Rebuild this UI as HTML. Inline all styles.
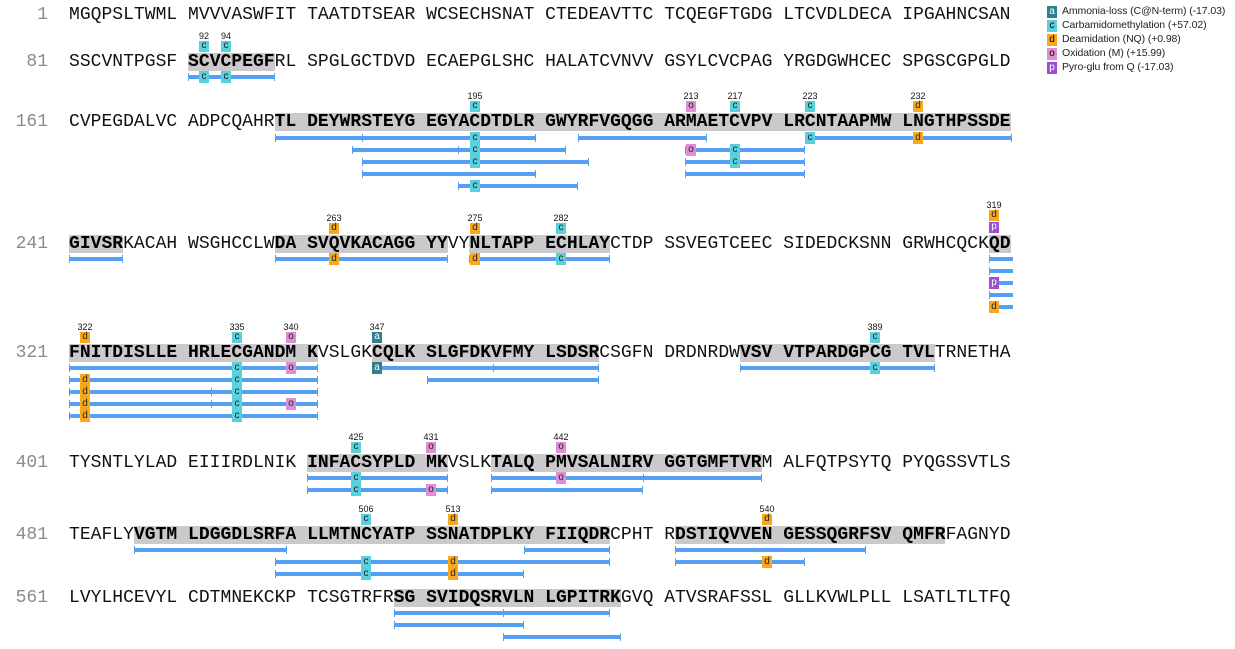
<!DOCTYPE html>
<html><head><meta charset="utf-8"><style>
body{margin:0;width:1235px;height:649px;background:#fff;position:relative;overflow:hidden;font-family:"Liberation Sans",sans-serif}
.r{position:absolute;left:69px;font:18px/20px "Liberation Mono",monospace;white-space:pre;color:#111;letter-spacing:0.02px}
.r b{font-weight:bold;color:#000}
.ln{position:absolute;left:0;width:48px;text-align:right;font:18px/20px "Liberation Mono",monospace;color:#8a8a8a}
.h{position:absolute;height:18px;background:#cbc9cb}
.b{position:absolute;height:8px;border-left:1px solid #55a0f2;border-right:1px solid #55a0f2;box-sizing:border-box}
.b::before{content:"";position:absolute;left:0;right:0;top:2px;height:4px;background:#55a0f2}
.t{position:absolute;width:1px;height:8px;background:#55a0f2}
.m{position:absolute;width:10px;height:12px;font:10px/12px "Liberation Sans",sans-serif;text-align:center;color:#222}
.u{height:11px;line-height:10px}
.c{background:#5ad0dc}.d{background:#f7a81b}.o{background:#e08ed6}.p{background:#9b4fd4;color:#fff}.a{background:#2f7f90;color:#fff}
.n{position:absolute;width:30px;margin-left:-15px;text-align:center;font:9px/10px "Liberation Sans",sans-serif;color:#111}
.lg{position:absolute;left:1062px;font:10.5px/13px "Liberation Sans",sans-serif;color:#222;white-space:nowrap;letter-spacing:-0.1px}
.lb{position:absolute;left:1047px;width:10px;height:12px;font:10px/12px "Liberation Sans",sans-serif;text-align:center}
</style></head><body>

<div class="h" style="left:188px;width:87px;top:53px"></div>
<div class="h" style="left:275px;width:736px;top:113px"></div>
<div class="h" style="left:69px;width:54px;top:235px"></div>
<div class="h" style="left:275px;width:173px;top:235px"></div>
<div class="h" style="left:469px;width:141px;top:235px"></div>
<div class="h" style="left:989px;width:22px;top:235px"></div>
<div class="h" style="left:69px;width:249px;top:344px"></div>
<div class="h" style="left:372px;width:227px;top:344px"></div>
<div class="h" style="left:740px;width:195px;top:344px"></div>
<div class="h" style="left:307px;width:141px;top:454px"></div>
<div class="h" style="left:491px;width:271px;top:454px"></div>
<div class="h" style="left:134px;width:476px;top:526px"></div>
<div class="h" style="left:675px;width:270px;top:526px"></div>
<div class="h" style="left:394px;width:227px;top:589px"></div>

<div class="ln" style="top:5px">1</div><div class="r" style="top:5px">MGQPSLTWML MVVVASWFIT TAATDTSEAR WCSECHSNAT CTEDEAVTTC TCQEGFTGDG LTCVDLDECA IPGAHNCSAN</div>
<div class="ln" style="top:52px">81</div><div class="r" style="top:52px">SSCVNTPGSF <b>SCVCPEGF</b>RL SPGLGCTDVD ECAEPGLSHC HALATCVNVV GSYLCVCPAG YRGDGWHCEC SPGSCGPGLD</div>
<div class="ln" style="top:112px">161</div><div class="r" style="top:112px">CVPEGDALVC ADPCQAHR<b>TL DEYWRSTEYG EGYACDTDLR GWYRFVGQGG ARMAETCVPV LRCNTAAPMW LNGTHPSSDE</b></div>
<div class="ln" style="top:234px">241</div><div class="r" style="top:234px"><b>GIVSR</b>KACAH WSGHCCLW<b>DA SVQVKACAGG YY</b>VY<b>NLTAPP ECHLAY</b>CTDP SSVEGTCEEC SIDEDCKSNN GRWHCQCK<b>QD</b></div>
<div class="ln" style="top:343px">321</div><div class="r" style="top:343px"><b>FNITDISLLE HRLECGANDM K</b>VSLGK<b>CQLK SLGFDKVFMY LSDSR</b>CSGFN DRDNRDW<b>VSV VTPARDGPCG TVL</b>TRNETHA</div>
<div class="ln" style="top:453px">401</div><div class="r" style="top:453px">TYSNTLYLAD EIIIRDLNIK <b>INFACSYPLD MK</b>VSLK<b>TALQ PMVSALNIRV GGTGMFTVR</b>M ALFQTPSYTQ PYQGSSVTLS</div>
<div class="ln" style="top:525px">481</div><div class="r" style="top:525px">TEAFLY<b>VGTM LDGGDLSRFA LLMTNCYATP SSNATDPLKY FIIQDR</b>CPHT R<b>DSTIQVVEN GESSQGRFSV QMFR</b>FAGNYD</div>
<div class="ln" style="top:588px">561</div><div class="r" style="top:588px">LVYLHCEVYL CDTMNEKCKP TCSGTRFR<b>SG SVIDQSRVLN LGPITRK</b>GVQ ATVSRAFSSL GLLKVWLPLL LSATLTLTFQ</div>

<div class="n" style="left:204px;top:31px">92</div><div class="m u c" style="left:199px;top:41px">c</div>
<div class="n" style="left:226px;top:31px">94</div><div class="m u c" style="left:221px;top:41px">c</div>

<div class="n" style="left:475px;top:91px">195</div><div class="m u c" style="left:470px;top:101px">c</div>
<div class="n" style="left:691px;top:91px">213</div><div class="m u o" style="left:686px;top:101px">o</div>
<div class="n" style="left:735px;top:91px">217</div><div class="m u c" style="left:730px;top:101px">c</div>
<div class="n" style="left:810px;top:91px">223</div><div class="m u c" style="left:805px;top:101px">c</div>
<div class="n" style="left:918px;top:91px">232</div><div class="m u d" style="left:913px;top:101px">d</div>

<div class="n" style="left:334px;top:213px">263</div><div class="m u d" style="left:329px;top:223px">d</div>
<div class="n" style="left:475px;top:213px">275</div><div class="m u d" style="left:470px;top:223px">d</div>
<div class="n" style="left:561px;top:213px">282</div><div class="m u c" style="left:556px;top:223px">c</div>
<div class="n" style="left:994px;top:200px">319</div><div class="m u d" style="left:989px;top:210px">d</div><div class="m u p" style="left:989px;top:222px">p</div>

<div class="n" style="left:85px;top:322px">322</div><div class="m u d" style="left:80px;top:332px">d</div>
<div class="n" style="left:237px;top:322px">335</div><div class="m u c" style="left:232px;top:332px">c</div>
<div class="n" style="left:291px;top:322px">340</div><div class="m u o" style="left:286px;top:332px">o</div>
<div class="n" style="left:377px;top:322px">347</div><div class="m u a" style="left:372px;top:332px">a</div>
<div class="n" style="left:875px;top:322px">389</div><div class="m u c" style="left:870px;top:332px">c</div>

<div class="n" style="left:356px;top:432px">425</div><div class="m u c" style="left:351px;top:442px">c</div>
<div class="n" style="left:431px;top:432px">431</div><div class="m u o" style="left:426px;top:442px">o</div>
<div class="n" style="left:561px;top:432px">442</div><div class="m u o" style="left:556px;top:442px">o</div>

<div class="n" style="left:366px;top:504px">506</div><div class="m u c" style="left:361px;top:514px">c</div>
<div class="n" style="left:453px;top:504px">513</div><div class="m u d" style="left:448px;top:514px">d</div>
<div class="n" style="left:767px;top:504px">540</div><div class="m u d" style="left:762px;top:514px">d</div>

<div class="b" style="left:188px;width:87px;top:73px"></div>
<div class="m c" style="left:199px;top:71px">c</div><div class="m c" style="left:221px;top:71px">c</div>

<div class="b" style="left:275px;width:261px;top:134px"></div><div class="t" style="left:362px;top:134px"></div>
<div class="b" style="left:578px;width:129px;top:134px"></div>
<div class="b" style="left:805px;width:207px;top:134px"></div>
<div class="m c" style="left:470px;top:132px">c</div><div class="m c" style="left:805px;top:132px">c</div><div class="m d" style="left:913px;top:132px">d</div>

<div class="b" style="left:352px;width:214px;top:146px"></div><div class="t" style="left:458px;top:146px"></div>
<div class="b" style="left:685px;width:120px;top:146px"></div>
<div class="m c" style="left:470px;top:144px">c</div><div class="m o" style="left:686px;top:144px">o</div><div class="m c" style="left:730px;top:144px">c</div>

<div class="b" style="left:362px;width:227px;top:158px"></div>
<div class="b" style="left:685px;width:120px;top:158px"></div>
<div class="m c" style="left:470px;top:156px">c</div><div class="m c" style="left:730px;top:156px">c</div>

<div class="b" style="left:362px;width:174px;top:170px"></div>
<div class="b" style="left:685px;width:120px;top:170px"></div>

<div class="b" style="left:458px;width:120px;top:182px"></div>
<div class="m c" style="left:470px;top:180px">c</div>

<div class="b" style="left:69px;width:54px;top:255px"></div>
<div class="b" style="left:275px;width:173px;top:255px"></div><div class="m d" style="left:329px;top:253px">d</div>
<div class="b" style="left:469px;width:141px;top:255px"></div><div class="m d" style="left:470px;top:253px">d</div><div class="m c" style="left:556px;top:253px">c</div>
<div class="b" style="left:989px;width:24px;top:255px;border-right:none"></div>
<div class="b" style="left:989px;width:24px;top:267px;border-right:none"></div>
<div class="b" style="left:989px;width:24px;top:279px;border-right:none"></div><div class="m p" style="left:989px;top:277px">p</div>
<div class="b" style="left:989px;width:24px;top:291px;border-right:none"></div>
<div class="b" style="left:989px;width:24px;top:303px;border-right:none"></div><div class="m d" style="left:989px;top:301px">d</div>

<div class="b" style="left:69px;width:249px;top:364px"></div><div class="m c" style="left:232px;top:362px">c</div><div class="m o" style="left:286px;top:362px">o</div>
<div class="b" style="left:372px;width:227px;top:364px"></div><div class="t" style="left:493px;top:364px"></div><div class="m a" style="left:372px;top:362px">a</div>
<div class="b" style="left:740px;width:195px;top:364px"></div><div class="m c" style="left:870px;top:362px">c</div>

<div class="b" style="left:69px;width:249px;top:376px"></div><div class="m d" style="left:80px;top:374px">d</div><div class="m c" style="left:232px;top:374px">c</div>
<div class="b" style="left:427px;width:172px;top:376px"></div>

<div class="b" style="left:69px;width:249px;top:388px"></div><div class="t" style="left:211px;top:388px"></div><div class="m d" style="left:80px;top:386px">d</div><div class="m c" style="left:232px;top:386px">c</div>

<div class="b" style="left:69px;width:249px;top:400px"></div><div class="t" style="left:211px;top:400px"></div><div class="m d" style="left:80px;top:398px">d</div><div class="m c" style="left:232px;top:398px">c</div><div class="m o" style="left:286px;top:398px">o</div>

<div class="b" style="left:69px;width:249px;top:412px"></div><div class="m d" style="left:80px;top:410px">d</div><div class="m c" style="left:232px;top:410px">c</div>

<div class="b" style="left:307px;width:141px;top:474px"></div><div class="m c" style="left:351px;top:472px">c</div>
<div class="b" style="left:491px;width:271px;top:474px"></div><div class="t" style="left:643px;top:474px"></div><div class="m o" style="left:556px;top:472px">o</div>
<div class="b" style="left:307px;width:141px;top:486px"></div><div class="m c" style="left:351px;top:484px">c</div><div class="m o" style="left:426px;top:484px">o</div>
<div class="b" style="left:491px;width:152px;top:486px"></div>

<div class="b" style="left:134px;width:153px;top:546px"></div>
<div class="b" style="left:524px;width:86px;top:546px"></div>
<div class="b" style="left:675px;width:191px;top:546px"></div>
<div class="b" style="left:275px;width:335px;top:558px"></div><div class="m c" style="left:361px;top:556px">c</div><div class="m d" style="left:448px;top:556px">d</div>
<div class="b" style="left:675px;width:130px;top:558px"></div><div class="m d" style="left:762px;top:556px">d</div>
<div class="b" style="left:275px;width:249px;top:570px"></div><div class="m c" style="left:361px;top:568px">c</div><div class="m d" style="left:448px;top:568px">d</div>

<div class="b" style="left:394px;width:216px;top:609px"></div><div class="t" style="left:503px;top:609px"></div>
<div class="b" style="left:394px;width:130px;top:621px"></div>
<div class="b" style="left:503px;width:118px;top:633px"></div>

<div class="lb a" style="top:6px;color:#fff">a</div><div class="lg" style="top:5px">Ammonia-loss (C@N-term) (-17.03)</div>
<div class="lb c" style="top:20px">c</div><div class="lg" style="top:19px">Carbamidomethylation (+57.02)</div>
<div class="lb d" style="top:34px">d</div><div class="lg" style="top:33px">Deamidation (NQ) (+0.98)</div>
<div class="lb o" style="top:48px">o</div><div class="lg" style="top:47px">Oxidation (M) (+15.99)</div>
<div class="lb p" style="top:62px;color:#fff">p</div><div class="lg" style="top:61px">Pyro-glu from Q (-17.03)</div>
</body></html>
